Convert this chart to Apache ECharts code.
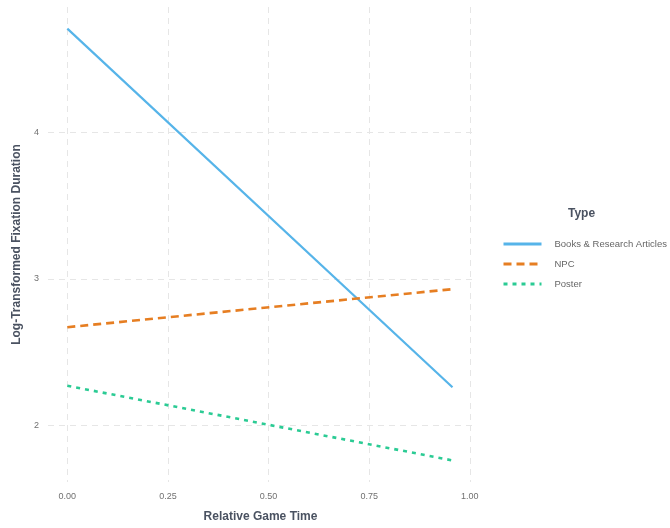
<!DOCTYPE html>
<html>
<head>
<meta charset="utf-8">
<script src="https://cdn.jsdelivr.net/npm/echarts@6/dist/echarts.min.js"></script>
<style>
  html, body { margin: 0; padding: 0; background: #fff; }
  #chart { width: 670px; height: 528px; }
</style>
</head>
<body>
<div id="chart"></div>
<script>
// fitted lines, start and end (relative game time 0 .. 0.96)
var timePoints = [0, 0.957];
var booksVals = [4.71, 2.26];
var npcVals = [2.67, 2.93];
var posterVals = [2.27, 1.76];
var xTicks = [0, 0.25, 0.5, 0.75, 1.0];
var yTicks = [2, 3, 4];
var typeNames = ['Books & Research Articles', 'NPC', 'Poster'];

function pairs(vals) {
  return timePoints.map(function (t, i) { return [t, vals[i]]; });
}

var chart = echarts.init(document.getElementById('chart'));
var gridLine = { show: true, lineStyle: { color: '#e6e6e6', type: [6, 5], width: 1 } };
var fontFam = 'Liberation Sans, Arial, sans-serif';

chart.setOption({
  animation: false,
  textStyle: { fontFamily: fontFam },
  grid: { left: 48, right: 197, top: 7, bottom: 43 },
  xAxis: {
    type: 'value',
    min: -0.048, max: 1.008,
    name: 'Relative Game Time',
    nameLocation: 'middle',
    nameGap: 29,
    nameTextStyle: { fontWeight: 'bold', fontSize: 12, color: '#4a5261' },
    axisLine: { show: false },
    axisTick: { show: false, customValues: xTicks },
    axisLabel: {
      customValues: xTicks, color: '#707070', fontSize: 9, margin: 10,
      formatter: function (v) { return v.toFixed(2); }
    },
    splitLine: gridLine
  },
  yAxis: {
    type: 'value',
    min: 1.6125, max: 4.8575,
    name: 'Log-Transformed Fixation Duration',
    nameLocation: 'middle',
    nameGap: 21,
    nameTextStyle: { fontWeight: 'bold', fontSize: 12, color: '#4a5261' },
    axisLine: { show: false },
    axisTick: { show: false, customValues: yTicks },
    axisLabel: { customValues: yTicks, color: '#707070', fontSize: 9, margin: 9 },
    splitLine: gridLine
  },
  graphic: [{
    type: 'text', left: 568, top: 208,
    style: { text: 'Type', font: 'bold 12px ' + fontFam, fill: '#4a5261' }
  }],
  legend: {
    orient: 'vertical',
    left: 497, top: 234,
    itemWidth: 38, itemHeight: 10, itemGap: 10,
    itemStyle: { opacity: 0 },
    lineStyle: { width: 3 },
    textStyle: { color: '#666', fontSize: 9.5, padding: [0, 0, 0, 8] },
    data: typeNames
  },
  series: [
    {
      name: typeNames[0], type: 'line', data: pairs(booksVals), symbol: 'none',
      lineStyle: { color: '#56b4e9', width: 2.2, type: 'solid' }, itemStyle: { color: '#56b4e9' }
    },
    {
      name: typeNames[1], type: 'line', data: pairs(npcVals), symbol: 'none',
      lineStyle: { color: '#e67e22', width: 2.6, type: [8, 5] }, itemStyle: { color: '#e67e22' }
    },
    {
      name: typeNames[2], type: 'line', data: pairs(posterVals), symbol: 'none',
      lineStyle: { color: '#2bcb94', width: 2.6, type: [4, 5] }, itemStyle: { color: '#2bcb94' }
    }
  ]
});
</script>
</body>
</html>
